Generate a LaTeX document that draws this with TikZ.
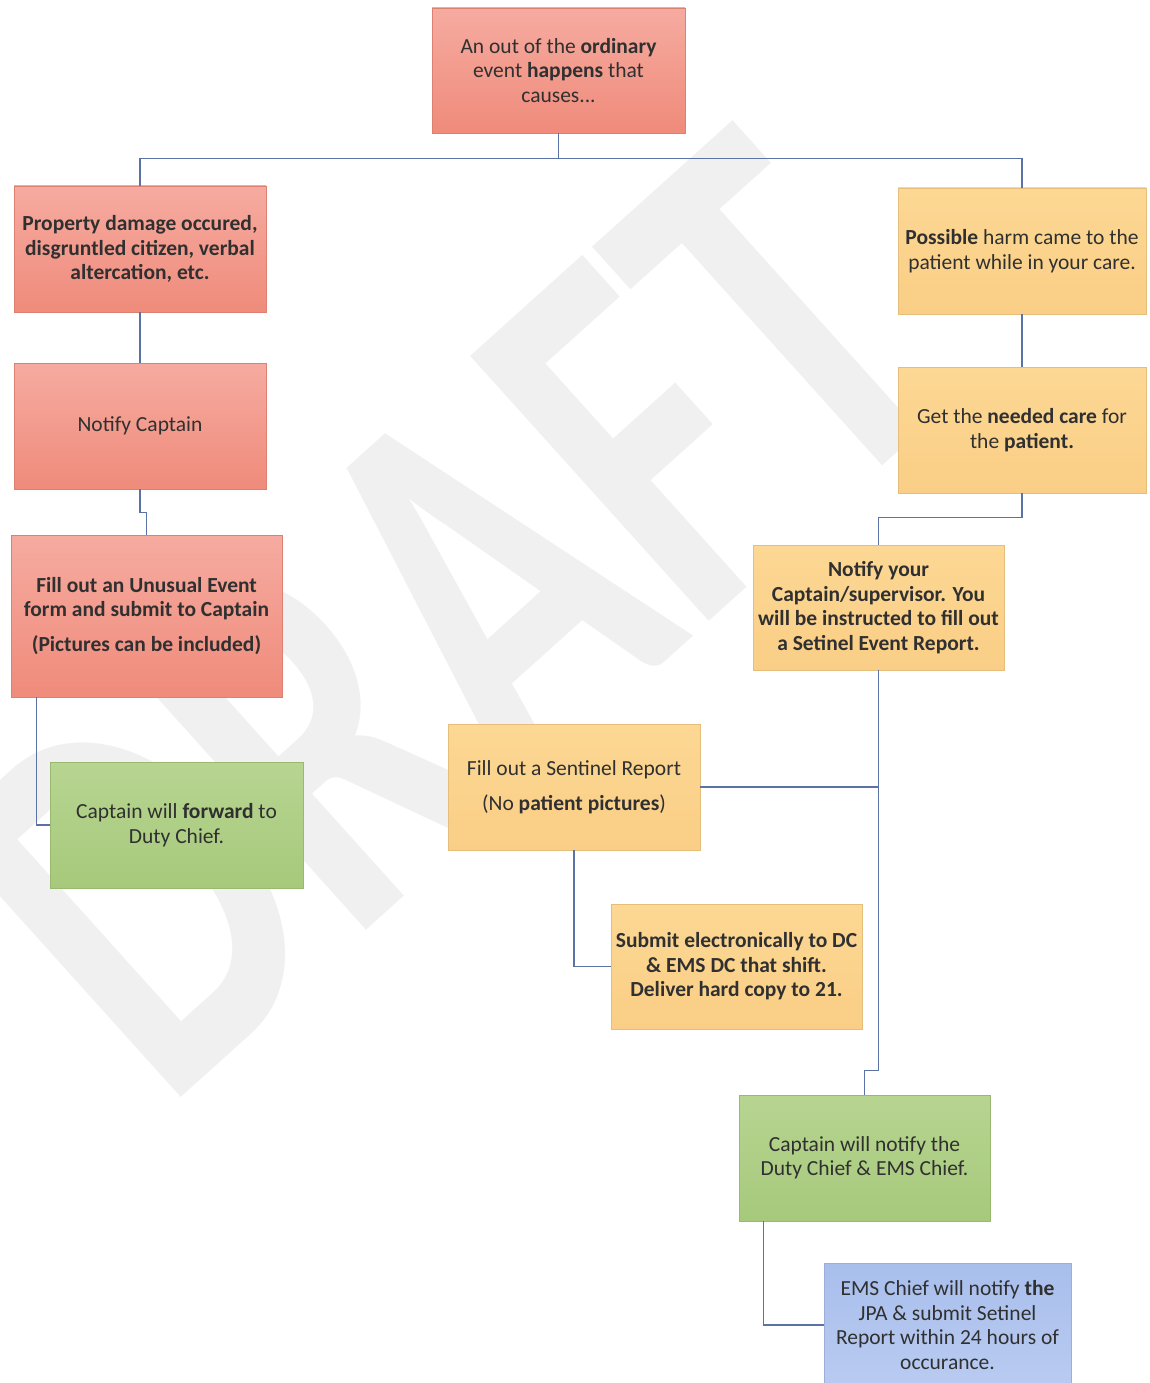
\documentclass[tikz,border=0pt]{standalone}
\usepackage{fontspec}
\setmainfont{Carlito}
\definecolor{linkblue}{HTML}{5A72A6}
\definecolor{redtop}{HTML}{F6ABA0}
\definecolor{redbot}{HTML}{EF8B7B}
\definecolor{orgtop}{HTML}{FCD894}
\definecolor{orgbot}{HTML}{FACE86}
\definecolor{grntop}{HTML}{B7D591}
\definecolor{grnbot}{HTML}{A6C97B}
\definecolor{blutop}{HTML}{A8BEEC}
\definecolor{blubot}{HTML}{B9CBF1}
\definecolor{inktext}{HTML}{303030}
\begin{document}
\begin{tikzpicture}
    [x=1pt,y=-1pt,
     every node/.style={rectangle,inner sep=0pt,align=center,text=inktext,
       font=\fontsize{21.5}{24.5}\selectfont},
     redbox/.style={top color=redtop,bottom color=redbot,draw=redbot!92!black,line width=0.5pt},
     orangebox/.style={top color=orgtop,bottom color=orgbot,draw=orgbot!92!black,line width=0.5pt},
     greenbox/.style={top color=grntop,bottom color=grnbot,draw=grnbot!92!black,line width=0.5pt},
     bluebox/.style={top color=blutop,bottom color=blubot,draw=blutop!92!black,line width=0.5pt},
     boldtext/.style={font=\fontsize{21.5}{24.5}\selectfont\bfseries},
     link/.style={draw=linkblue,line width=1.3pt}]
    \useasboundingbox (0,0) rectangle (1149,1383);
    \node[rotate=42,xscale=0.72,text=black!6,font=\fontsize{550}{550}\selectfont\bfseries] (nDraft) at (450,615) {DRAFT};

    \node[redbox,minimum width=253,minimum height=125] (nTop) at (558.5,70.5)
      {An out of the \textbf{ordinary}\\event \textbf{happens} that\\causes...};
    \node[redbox,boldtext,minimum width=252,minimum height=126] (nDamage) at (140,249)
      {Property damage occured,\\disgruntled citizen, verbal\\altercation, etc.};
    \node[redbox,minimum width=252,minimum height=126] (nNotify) at (140,426) {Notify Captain};
    \node[redbox,boldtext,minimum width=271,minimum height=162] (nForm) at (146.5,616)
      {Fill out an Unusual Event\\form and submit to Captain\\[10pt](Pictures can be included)};
    \node[greenbox,minimum width=253,minimum height=126] (nForward) at (176.5,825)
      {Captain will \textbf{forward} to\\Duty Chief.};

    \node[orangebox,minimum width=248,minimum height=126] (nHarm) at (1022,251)
      {\textbf{Possible} harm came to the\\patient while in your care.};
    \node[orangebox,minimum width=248,minimum height=126] (nCare) at (1022,430)
      {Get the \textbf{needed care} for\\the \textbf{patient.}};
    \node[orangebox,boldtext,minimum width=251,minimum height=125] (nNotifyYou) at (878.5,607.5)
      {Notify your\\Captain/supervisor. You\\will be instructed to fill out\\a Setinel Event Report.};
    \node[orangebox,minimum width=252,minimum height=126] (nSentinel) at (574,787)
      {Fill out a Sentinel Report\\[10pt](No \textbf{patient pictures})};
    \node[orangebox,boldtext,minimum width=251,minimum height=125] (nSubmit) at (736.5,966.5)
      {Submit electronically to DC\\\& EMS DC that shift.\\Deliver hard copy to 21.};
    \node[greenbox,minimum width=251,minimum height=126] (nChiefs) at (864.5,1158)
      {Captain will notify the\\Duty Chief \& EMS Chief.};
    \node[bluebox,minimum width=247,minimum height=124] (nJpa) at (947.5,1325)
      {EMS Chief will notify \textbf{the}\\JPA \& submit Setinel\\Report within 24 hours of\\occurance.};

    \draw[link] (nTop.south) -- ++(0,25) -| (nDamage.north);
    \draw[link] (nTop.south) -- ++(0,25) -| (nHarm.north);
    \foreach \from/\to in {nDamage/nNotify,nHarm/nCare}
      \draw[link] (\from) -- (\to);
    \draw[link] (nNotify.south) -- ++(0,23) -| (nForm.north);
    \draw[link] ([xshift=26pt]nForm.south west) |- (nForward.west);
    \draw[link] (nCare.south) -- ++(0,24) -| (nNotifyYou.north);
    \foreach \from/\to in {nNotifyYou.south/nSentinel.east,nSentinel.south/nSubmit.west}
      \draw[link] (\from) |- (\to);
    \draw[link] (nNotifyYou.south) -- ++(0,400) -| (nChiefs.north);
    \draw[link] ([xshift=25pt]nChiefs.south west) |- (nJpa.west);
\end{tikzpicture}
\end{document}
